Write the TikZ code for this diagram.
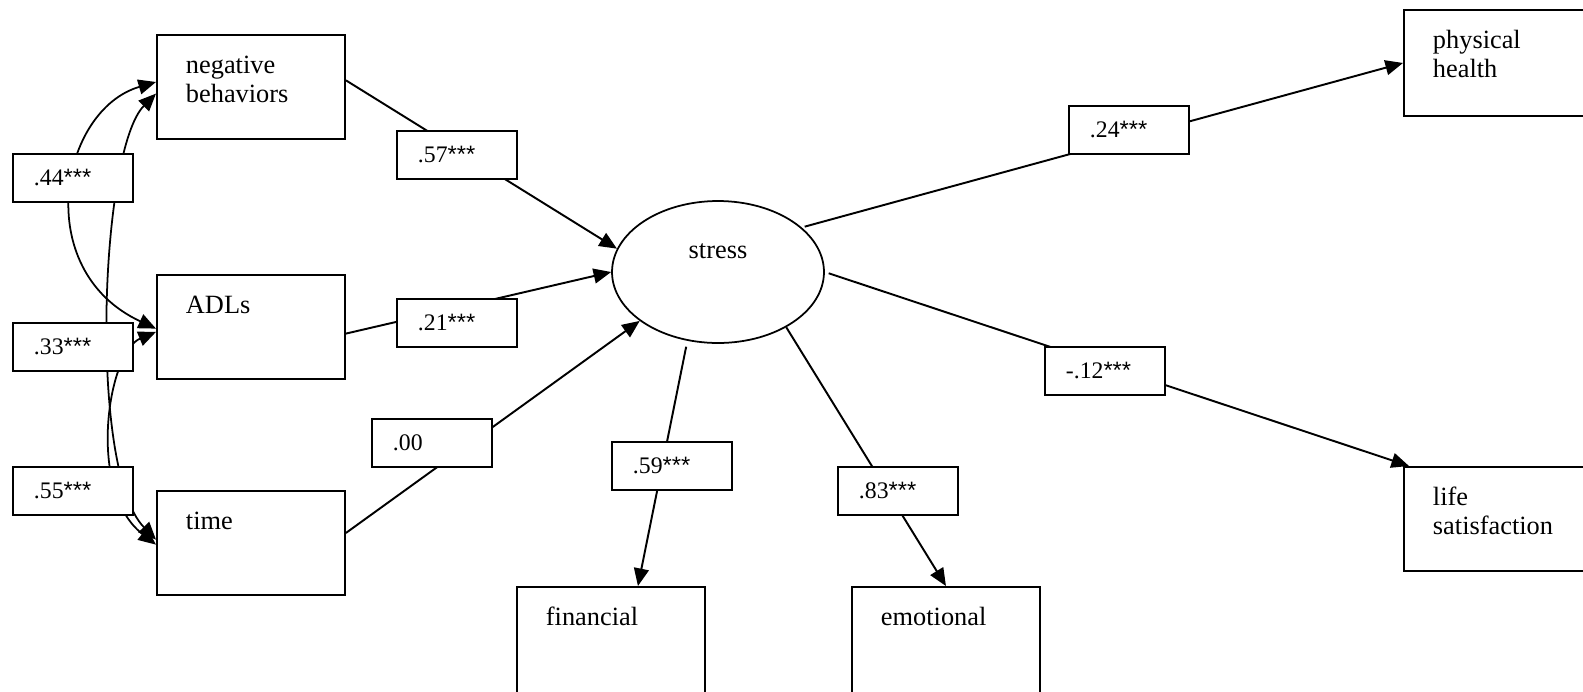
\documentclass[tikz,border=0pt]{standalone}
\usepackage{fontspec}
\setmainfont{Liberation Serif}
\newfontfamily\starfont{Liberation Sans}
\usepackage{tikz}
\usetikzlibrary{shapes,arrows.meta,calc}

\newcommand{\boxfont}{\fontsize{15}{16}\selectfont}
\newcommand{\coeffont}{\fontsize{13.5}{15}\selectfont}
\newcommand{\stars}{{\starfont ***}}

\tikzset{
  measure/.style={draw, line width=1.1pt, rectangle, anchor=north west,
    text width=2.6cm, inner xsep=0.58cm, inner ysep=0pt,
    text height=0.78cm, text depth=#1, align=left, font=\boxfont},
  measure/.default=1.3cm,
  coef/.style={draw, fill=white, line width=1.1pt, rectangle, anchor=north west,
    minimum width=2.4cm, minimum height=0.96cm, text width=1.56cm,
    inner xsep=0.42cm, inner ysep=0pt, align=left, font=\coeffont},
  link/.style={line width=1.1pt, -{Triangle[length=10pt,width=8.5pt]}},
  cov/.style={line width=1pt, {Triangle[length=10pt,width=8.5pt]}-{Triangle[length=10pt,width=8.5pt]}}
}

\begin{document}
\begin{tikzpicture}[x=0.02cm, y=-0.02cm]
        \useasboundingbox (0,0) rectangle (1583,691);

        % Observed variables
        \node[measure] (neg) at (156,34) {negative\\behaviors};
        \node[measure] (adl) at (156,274) {ADLs};
        \node[measure] (tim) at (156,490) {time};
        \node[measure=1.36cm] (fin) at (516,586) {financial};
        \node[measure=1.36cm] (emo) at (851,586) {emotional};
        \node[measure=1.34cm] (phy) at (1403,9) {physical\\health};
        \node[measure=1.3cm] (lif) at (1403,466) {life\\satisfaction};

        % Latent variable
        \node[draw, ellipse, line width=1pt, minimum width=4.24cm, minimum height=2.84cm,
              inner sep=0pt, text height=0.3cm, text depth=0.86cm, font=\boxfont] (stress) at (718,272) {stress};

        % Paths into stress
        \draw[link] (neg.4) -- (stress.167);
        \draw[link] (adl.-4) -- (stress.west);
        \draw[link] (tim.6) -- (stress.212);

        % Paths out of stress
        \draw[link, shorten <=0.12cm] (stress.246) -- ([xshift=0.54cm]fin.north);
        \draw[link] (stress.321) -- (emo.north);
        \draw[link, shorten <=0.06cm] (stress.28) -- (phy.west);
        \draw[link, shorten <=0.08cm] (stress.east) -- ([xshift=0.12cm]lif.north west);

        % Covariances
        \draw[cov] (neg.177) .. controls (60,110) and (30,270) .. (adl.181);
        \draw[cov] (neg.184) .. controls (100,150) and (88,470) .. (tim.178);
        \draw[cov] (adl.183) .. controls (108,352) and (86,490) .. (tim.181);

        % Coefficients
        \node[coef] (c44) at (12,153) {.44\stars};
        \node[coef] (c33) at (12,322) {.33\stars};
        \node[coef] (c55) at (12,466) {.55\stars};
        \node[coef] (c57) at (396,130) {.57\stars};
        \node[coef] (c21) at (396,298) {.21\stars};
        \node[coef] (c00) at (371,418) {.00};
        \node[coef] (c59) at (611,441) {.59\stars};
        \node[coef] (c83) at (837,466) {.83\stars};
        \node[coef] (c24) at (1068,105) {.24\stars};
        \node[coef] (c12) at (1044,346) {-.12\stars};
      \end{tikzpicture}
\end{document}
